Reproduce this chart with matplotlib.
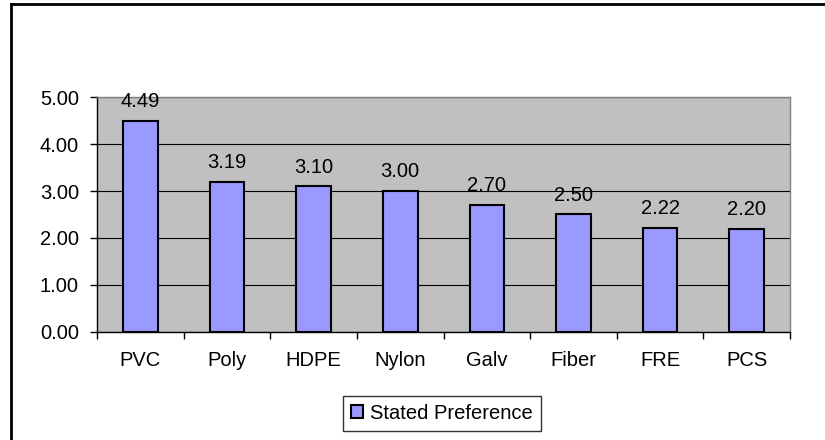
import matplotlib
matplotlib.use("Agg")
import matplotlib.pyplot as plt
from matplotlib.lines import Line2D
import numpy as np

categories = ["PVC", "Poly", "HDPE", "Nylon", "Galv", "Fiber", "FRE", "PCS"]
preference = [4.49, 3.19, 3.10, 3.00, 2.70, 2.50, 2.22, 2.20]
y_ticks = [0, 1, 2, 3, 4, 5]

plt.rcParams['font.family'] = ['Liberation Sans', 'DejaVu Sans']
fs = 14.5

fig = plt.figure(figsize=(8.25, 4.4), dpi=100)
ax = fig.add_axes([0.1176, 0.2455, 0.84, 0.534])
ax.set_facecolor('#C0C0C0')

x = np.arange(len(categories))
bars = ax.bar(x, preference, width=0.4, color='#9999FF', edgecolor='black',
              linewidth=1.5, zorder=3, label='Stated Preference')

for xi, v in zip(x, preference):
    ax.annotate(f"{v:.2f}", (xi, v), xytext=(0, 7), textcoords='offset points',
                ha='center', va='bottom', fontsize=fs)

ax.set_xlim(-0.5, len(categories) - 0.5)
ax.set_ylim(0, 5)
ax.set_yticks(y_ticks)
ax.set_yticklabels([f"{t:.2f}" for t in y_ticks], fontsize=fs)
ax.yaxis.grid(True, color='black', linewidth=0.8, zorder=1)
ax.set_axisbelow(True)

ax.set_xticks(x)
ax.set_xticklabels(categories, fontsize=fs)
ax.tick_params(axis='x', length=0, pad=14)
ax.set_xticks(np.arange(-0.5, len(categories)), minor=True)
ax.tick_params(axis='x', which='minor', length=5, width=1, color='black')
ax.tick_params(axis='y', length=5, width=1, color='black', pad=8)

for side in ['top', 'right']:
    ax.spines[side].set_color('#808080')
    ax.spines[side].set_linewidth(1)
for side in ['left', 'bottom']:
    ax.spines[side].set_color('black')
    ax.spines[side].set_linewidth(1)

leg = fig.legend(handles=[bars], loc='center', bbox_to_anchor=(0.536, 0.061),
                 fontsize=fs, frameon=True, fancybox=False, handlelength=0.6,
                 handleheight=0.6, handletextpad=0.35, borderpad=0.4)
leg.get_frame().set_edgecolor('black')
leg.get_frame().set_linewidth(1)

# outer chart border (top and left visible)
fig.add_artist(Line2D([0.0133, 0.0133], [0, 0.992], transform=fig.transFigure,
                      color='black', linewidth=2))
fig.add_artist(Line2D([0.0133, 1], [0.992, 0.992], transform=fig.transFigure,
                      color='black', linewidth=2))

fig.savefig("out.png", dpi=100)
